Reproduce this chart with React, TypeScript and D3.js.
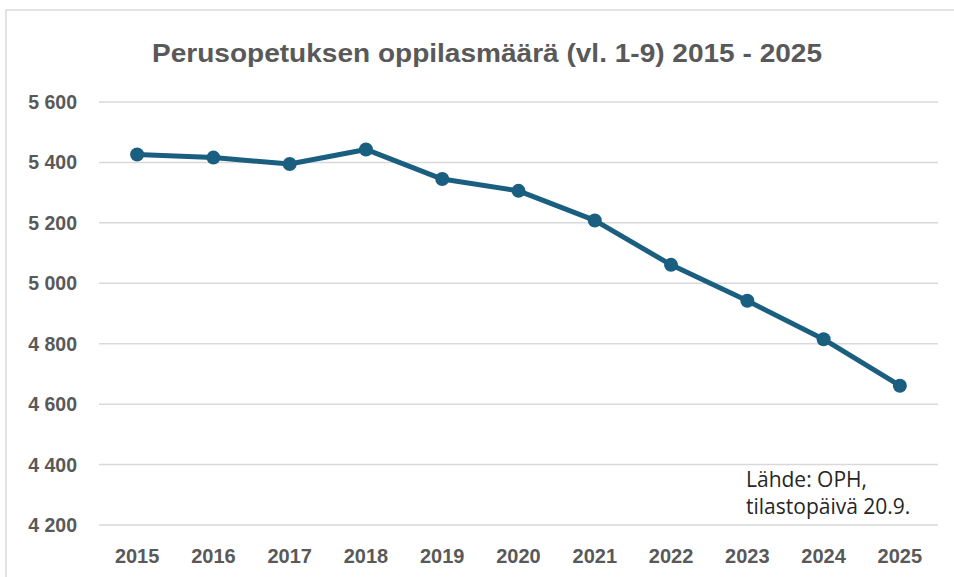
import * as d3 from "d3";

const years = ["2015", "2016", "2017", "2018", "2019", "2020", "2021", "2022", "2023", "2024", "2025"];
const pupils = [5426, 5416, 5395, 5443, 5345, 5306, 5208, 5061, 4942, 4815, 4661];
const yTicks = [4200, 4400, 4600, 4800, 5000, 5200, 5400, 5600];
const title = "Perusopetuksen oppilasmäärä (vl. 1-9) 2015 - 2025";
const sourceNote = ["Lähde: OPH,", "tilastopäivä 20.9."];

const W = 954;
const H = 577;
const margin = { top: 102, right: 16, bottom: 52, left: 99 };
const lineColor = "#1a5e80";
const gray = "#595959";

export default function App() {
  const x = d3
    .scaleBand<string>()
    .domain(years)
    .range([margin.left, W - margin.right])
    .padding(0);
  const y = d3
    .scaleLinear()
    .domain([4200, 5600])
    .range([H - margin.bottom, margin.top]);

  const line = d3
    .line<number>()
    .x((_, i) => x(years[i])! + x.bandwidth() / 2)
    .y((d) => y(d));

  const fmt = (v: number) => d3.format(",")(v).replace(",", " ");

  return (
    <svg
      width={W}
      height={H}
      style={{ position: "absolute", left: 0, top: 0, fontFamily: "'Liberation Sans', Arial, sans-serif" }}
    >
      <rect x={0} y={0} width={W} height={H} fill="#fff" />
      <rect x={6} y={10} width={W + 10} height={H + 10} fill="none" stroke="#d9d9d9" strokeWidth={1.5} />
      <text
        x={152}
        y={62}
        fontSize={26}
        fontWeight="bold"
        fill={gray}
        textLength={670}
        lengthAdjust="spacingAndGlyphs"
      >
        {title}
      </text>
      {yTicks.map((t) => (
        <g key={t}>
          <line
            x1={margin.left}
            x2={W - margin.right}
            y1={y(t)}
            y2={y(t)}
            stroke="#d9d9d9"
            strokeWidth={1.5}
          />
          <text x={77} y={y(t) + 7} textAnchor="end" fontSize={19.5} fontWeight="bold" fill={gray}>
            {fmt(t)}
          </text>
        </g>
      ))}
      {years.map((yr) => (
        <text
          key={yr}
          x={x(yr)! + x.bandwidth() / 2}
          y={563}
          textAnchor="middle"
          fontSize={20}
          fontWeight="bold"
          fill={gray}
        >
          {yr}
        </text>
      ))}
      <path d={line(pupils) ?? ""} fill="none" stroke={lineColor} strokeWidth={5} strokeLinejoin="round" />
      {pupils.map((v, i) => (
        <circle key={i} cx={x(years[i])! + x.bandwidth() / 2} cy={y(v)} r={7} fill={lineColor} />
      ))}
      {sourceNote.map((s, i) => (
        <text
          key={i}
          x={746}
          y={487 + i * 27}
          fontSize={21}
          fill="#262626"
          fontFamily="'Open Sans', sans-serif"
        >
          {s}
        </text>
      ))}
    </svg>
  );
}
